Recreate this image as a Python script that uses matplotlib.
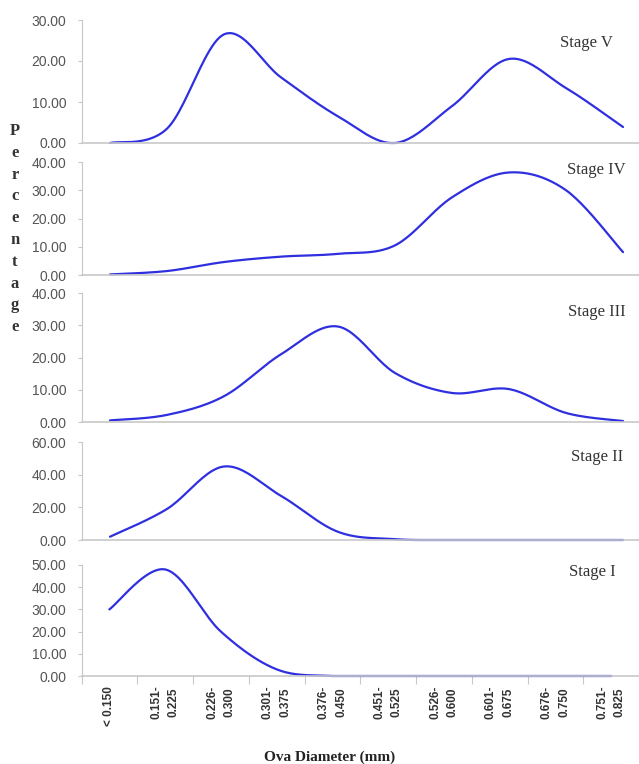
import numpy as np
import matplotlib
matplotlib.use("Agg")
import matplotlib.pyplot as plt

# ova diameter classes (mm)
classes = ["< 0.150", "0.151-\n0.225", "0.226-\n0.300", "0.301-\n0.375", "0.376-\n0.450",
           "0.451-\n0.525", "0.526-\n0.600", "0.601-\n0.675", "0.676-\n0.750", "0.751-\n0.825"]

# percentage of ova in each class, per maturity stage
stage_v = [0.0, 3.5, 26.5, 16.0, 6.5, 0.0, 9.0, 20.5, 13.4, 3.9]
stage_iv = [0.2, 1.4, 4.6, 6.5, 7.5, 10.5, 27.5, 36.3, 30.0, 8.1]
stage_iii = [0.5, 2.2, 8.0, 21.0, 29.6, 15.2, 9.0, 10.2, 2.8, 0.3]
stage_ii = [2.0, 19.0, 45.0, 27.0, 5.0, 0.5, 0.0, 0.0, 0.0, 0.0]
stage_i = [30.0, 48.0, 20.0, 3.0, 0.0, 0.0, 0.0, 0.0, 0.0, 0.0]

stages = ["Stage V", "Stage IV", "Stage III", "Stage II", "Stage I"]
values = [stage_v, stage_iv, stage_iii, stage_ii, stage_i]
ymax = [30, 40, 40, 60, 50]
ystep = [10, 10, 10, 20, 10]


def smooth(x, y, n=25):
    # bezier smoothing through every point, like a spreadsheet "smoothed line"
    pts = np.column_stack([x, y]).astype(float)
    p = np.vstack([pts[0], pts, pts[-1]])
    segs = []
    t = np.linspace(0, 1, n)[:, None]
    for i in range(1, len(p) - 2):
        p0, p1, p2, p3 = p[i - 1], p[i], p[i + 1], p[i + 2]
        c1 = p1 + (p2 - p0) / 6
        c2 = p2 - (p3 - p1) / 6
        segs.append((1 - t) ** 3 * p1 + 3 * (1 - t) ** 2 * t * c1
                    + 3 * (1 - t) * t ** 2 * c2 + t ** 3 * p2)
    out = np.vstack(segs)
    out[:, 1] = np.maximum(out[:, 1], 0)
    return out


W, H = 639, 764
fig = plt.figure(figsize=(W / 100, H / 100), dpi=100)

# panel extents in pixels: (top, bottom)
rows = [(20, 143), (162, 275), (293, 422), (442, 540), (565, 676)]
# stage label centres in pixels
label_pos = [(586, 43), (596, 170), (597, 312), (597, 457), (592, 572)]
left, right = 81.5, 639
x = np.arange(len(classes))

axis_col = "#c8c8c8"
tick_col = "#555555"

for k, (name, vals, (top, bot)) in enumerate(zip(stages, values, rows)):
    ax = fig.add_axes([left / W, 1 - bot / H, (right - left) / W, (bot - top) / H])
    xy = smooth(x, vals)
    ax.plot(xy[:, 0], xy[:, 1], color="#2f2fe0", lw=1.6, solid_capstyle="round", clip_on=False)
    ax.set_xlim(-0.5, 9.28)
    ax.set_ylim(0, ymax[k])
    ax.set_yticks(np.arange(0, ymax[k] + 0.1, ystep[k]))
    ax.set_yticklabels([f"{v:.2f}" for v in ax.get_yticks()])
    for s in ["top", "right"]:
        ax.spines[s].set_visible(False)
    ax.spines["left"].set_color(axis_col)
    ax.spines["bottom"].set_color(axis_col)
    ax.spines["bottom"].set_linewidth(1.2)
    ax.tick_params(axis="y", colors=axis_col, length=3, width=0.8, pad=8,
                   labelcolor=tick_col, labelsize=10)
    for lab in ax.get_yticklabels():
        lab.set_fontfamily("Liberation Sans")
    if k < 4:
        ax.set_xticks([])
    else:
        ax.set_xticks(x)
        ax.set_xticks(np.arange(-0.5, 9.6, 1.0), minor=True)
        ax.tick_params(axis="x", which="major", length=0, pad=7)
        ax.tick_params(axis="x", which="minor", length=6, color=axis_col, width=0.8)
        ax.set_xticklabels(classes, rotation=90, ha="center", va="top",
                           fontsize=8.5, fontweight="bold", color="#333333",
                           fontfamily="Liberation Sans", linespacing=1.6)
    cx, cy = label_pos[k]
    ax.text(cx / W, 1 - cy / H, name, transform=fig.transFigure,
            ha="center", va="center", fontsize=12, family="Liberation Serif",
            color="#333333")

# vertical y-axis title, one letter per line
for i, ch in enumerate("Percentage"):
    fig.text(15 / W, 1 - (131 + i * 21.8) / H, ch, ha="center", va="center",
             fontsize=12, family="Liberation Serif", fontweight="bold", color="#333333")

fig.text(330 / W, 1 - 757 / H, "Ova Diameter (mm)", ha="center", va="center",
         fontsize=11, family="Liberation Serif", fontweight="bold", color="#222222")

fig.savefig("out.png", dpi=100)
